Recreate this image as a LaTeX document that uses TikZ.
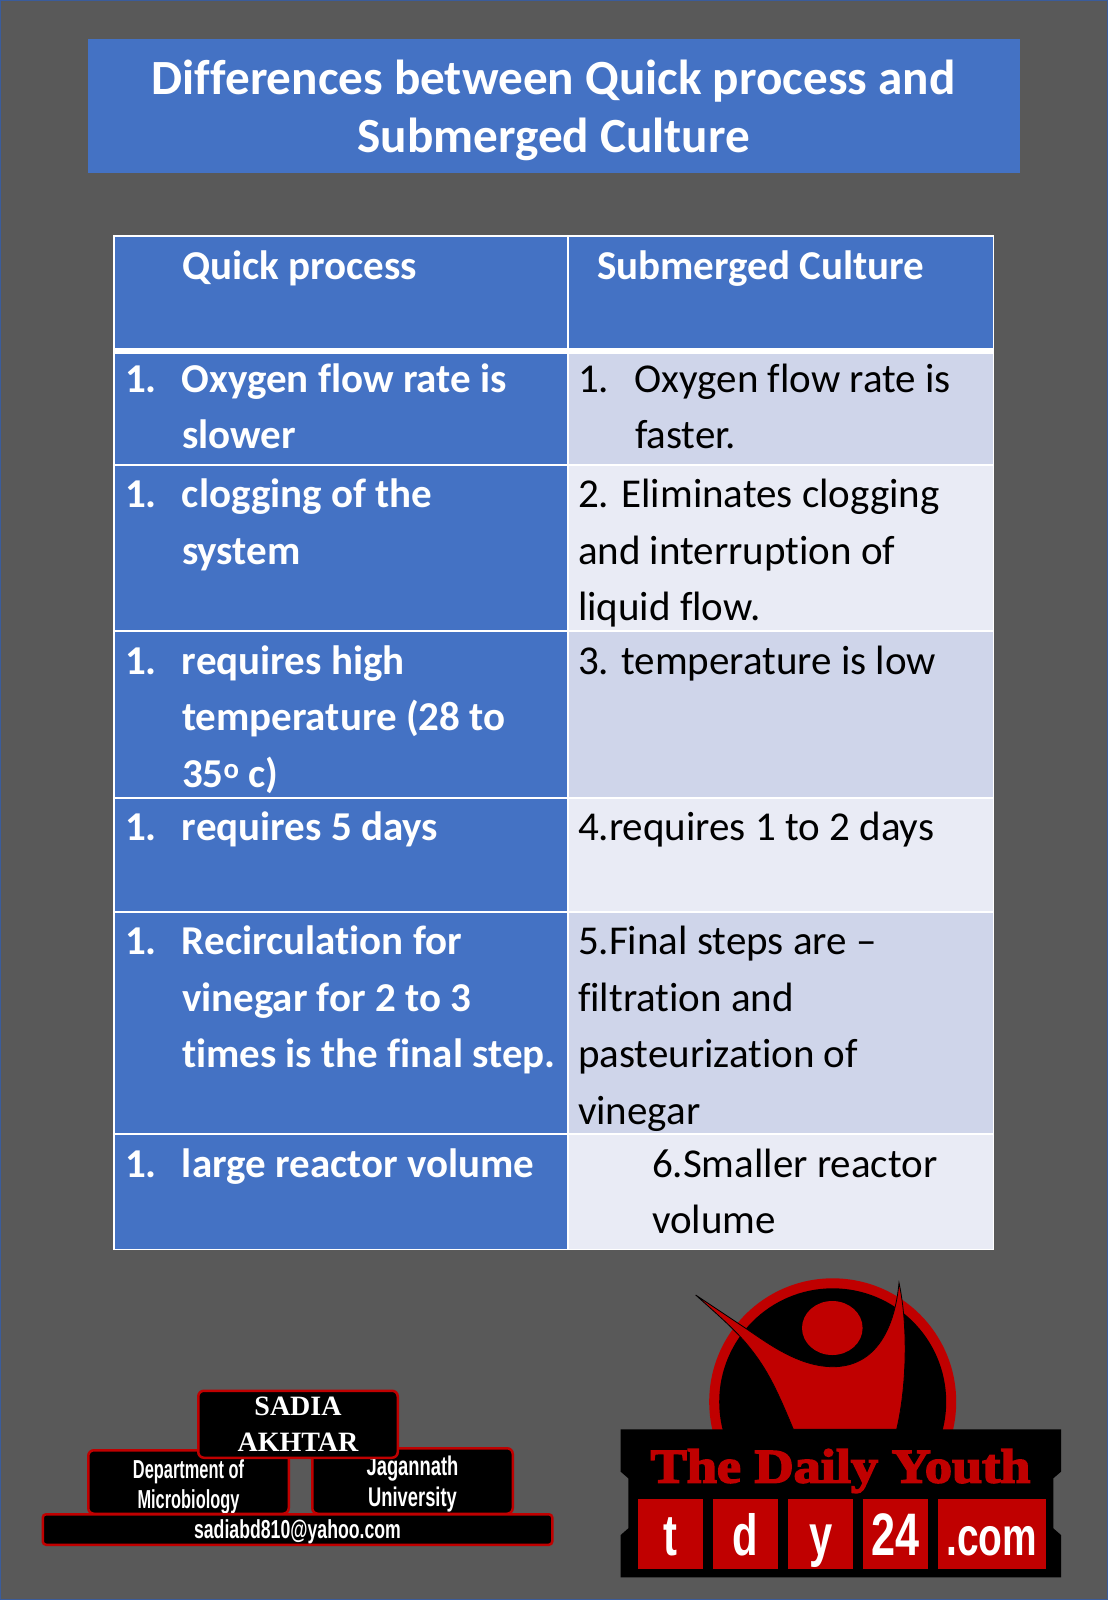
\documentclass[tikz,border=0pt]{standalone}
\usepackage{fontspec}
\setmainfont[Ligatures={TeX,NoCommon}]{Carlito}
\newfontfamily\narrowfont[FakeStretch=0.63]{Liberation Sans}
\newfontfamily\mailfont[FakeStretch=0.68]{Liberation Sans}
\newfontfamily\seriffont{Liberation Serif}
\newfontfamily\blackfont[FakeBold=3.5,FakeStretch=1.13]{Liberation Serif Bold}
\newfontfamily\tilefont[FakeStretch=0.72]{Liberation Sans Bold}
\usetikzlibrary{positioning}
\usetikzlibrary{calc}
\definecolor{pagegray}{HTML}{595959}
\definecolor{pageblue}{HTML}{3A5C9C}
\definecolor{headblue}{HTML}{4472C4}
\definecolor{rowdark}{HTML}{CFD5EA}
\definecolor{rowlight}{HTML}{E9EBF5}
\definecolor{logored}{HTML}{C00000}
\newcommand{\nm}[1]{\makebox[57pt][l]{#1}}
\newcommand{\ind}{\hspace*{57pt}}
\tikzset{every picture/.style={line width=1pt}}

\begin{document}
\begin{tikzpicture}[x=1pt,y=1pt,
  qcell/.style={anchor=north west, fill=headblue, text=white, minimum width=452pt, text width=432pt, inner xsep=10pt, inner ysep=0pt, align=flush left, font=\fontsize{41}{56.6}\selectfont\bfseries, text height=42pt},
  scell/.style={anchor=north west, minimum width=424pt, text width=406pt, inner xsep=9pt, inner ysep=0pt, align=flush left, text=black, font=\fontsize{41}{56.6}\selectfont, text height=42pt},
  namebox/.style={anchor=north west, fill=black, draw=logored, line width=2.5pt, rounded corners=1.2ex, text=white, inner sep=0pt, align=center},
  tile/.style={anchor=north west, fill=logored, text=white, minimum height=70pt, text height=56.7pt, text depth=13.3pt, inner sep=0pt, font=\fontsize{58}{60}\selectfont\tilefont}]
\useasboundingbox (0,0) rectangle (1108,-1600);
\coordinate (pg) at (0,0);
\node (page) at ($(pg)+(554pt,-800pt)$) [minimum width=1107pt, minimum height=1599pt, inner sep=0pt, fill=pagegray, draw=pageblue] {};
\node (title) at ($(pg)+(553.75pt,-106.25pt)$) [minimum width=932.5pt, minimum height=133.5pt, inner sep=0pt, fill=headblue, text=white, align=center, font=\fontsize{49.2}{58}\selectfont\bfseries] {\rule{0pt}{43pt}Differences between Quick process and\\Submerged Culture};
% table
\node (tbl) at ($(pg)+(553.5pt,-742.5pt)$) [minimum width=881pt, minimum height=1015pt, inner sep=0pt, fill=white] {};
\node (hq) at ($(pg)+(114.5pt,-236.5pt)$) [qcell, text depth=68.5pt] {\ind Quick process};
\node (hs) at ($(hq.north west)+(454pt,0)$) [scell, fill=headblue, text=white, text depth=68.5pt, font=\fontsize{41}{56.6}\selectfont\bfseries] {\hspace*{19pt}Submerged Culture};
\node (q1) at ($(hq.north west)+(0,-116.5pt)$) [qcell, text height=38.5pt, text depth=71.5pt] {\nm{1.}Oxygen flow rate is\\\ind slower};
\node (s1) at ($(q1.north west)+(454pt,0)$) [scell, fill=rowdark, text height=38.5pt, text depth=71.5pt] {\nm{1.}Oxygen flow rate is\\\ind faster.};
\node (q2) at ($(hq.north west)+(0,-228.5pt)$) [qcell, text depth=122.5pt] {\nm{1.}clogging of the\\\ind system};
\node (s2) at ($(q2.north west)+(454pt,0)$) [scell, fill=rowlight, text depth=122.5pt] {2. Eliminates clogging\\and interruption of\\liquid flow.};
\node (q3) at ($(hq.north west)+(0,-395pt)$) [qcell, text depth=122.5pt] {\nm{1.}requires high\\\ind temperature (28 to\\\ind 35\textsuperscript{o} c)};
\node (s3) at ($(q3.north west)+(454pt,0)$) [scell, fill=rowdark, text depth=122.5pt] {3. temperature is low};
\node (q4) at ($(hq.north west)+(0,-561.5pt)$) [qcell, text depth=70pt] {\nm{1.}requires 5 days};
\node (s4) at ($(q4.north west)+(454pt,0)$) [scell, fill=rowlight, text depth=70pt] {4.requires 1 to 2 days};
\node (q5) at ($(hq.north west)+(0,-675.5pt)$) [qcell, text depth=178.5pt] {\nm{1.}Recirculation for\\\ind vinegar for 2 to 3\\\ind times is the final step.};
\node (s5) at ($(q5.north west)+(454pt,0)$) [scell, fill=rowdark, text depth=178.5pt] {5.Final steps are --\\filtration and\\pasteurization of\\vinegar};
\node (q6) at ($(hq.north west)+(0,-898pt)$) [qcell, text depth=71.5pt] {\nm{1.}large reactor volume};
\node (s6) at ($(q6.north west)+(454pt,0)$) [scell, fill=rowlight, text depth=71.5pt] {\hspace*{74pt}6.Smaller reactor\\\hspace*{74pt}volume};
% name boxes
\node (dept) at ($(pg)+(87pt,-1449pt)$) [namebox, minimum width=200.5pt, minimum height=63.5pt, font=\fontsize{26}{29.5}\selectfont\narrowfont\bfseries] {\rule{0pt}{28pt}Department of\\Microbiology};
\node (univ) at ($(pg)+(311pt,-1447pt)$) [namebox, minimum width=200.5pt, minimum height=65.5pt, font=\fontsize{27}{30.5}\selectfont\mailfont\bfseries] {\rule{0pt}{26pt}Jagannath\\University};
\node (sadia) at ($(pg)+(197pt,-1389.5pt)$) [namebox, minimum width=199.5pt, minimum height=67pt, font=\fontsize{28}{36}\selectfont\seriffont\bfseries] {SADIA\\AKHTAR};
\node (mail) at ($(pg)+(41.5pt,-1513pt)$) [namebox, rounded corners=0.7ex, minimum width=509.5pt, minimum height=30.5pt, font=\fontsize{26}{30}\selectfont\mailfont\bfseries] {\rule{0pt}{24pt}sadiabd810@yahoo.com};
% logo
\coordinate (hub) at ($(pg)+(832.7pt,-1401.8pt)$);
\fill[logored] (hub) circle (123.5);
\fill[black] (hub) circle (113.5);
\fill[logored] ($(pg)+(832.3pt,-1328pt)$) ellipse (30.3 and 27);
\filldraw[fill=logored, draw=black, line width=0.8pt] (695.7,-1295) -- (746.7,-1329) .. controls (770,-1345) and (800,-1366.7) .. (833,-1366.7) .. controls (876.7,-1366.7) and (895,-1326.7) .. (899,-1282.7) .. controls (908.3,-1326.7) and (906.7,-1386.7) .. (896.7,-1429.3) -- (793.3,-1429.3) .. controls (775,-1385) and (765,-1365) .. (743.3,-1340) .. controls (730,-1325) and (710,-1308) .. cycle;
\fill[black] (620.7,-1429.3) -- (1061,-1429.3) -- (1061,-1471.7) -- (1053.3,-1478.3) -- (1053.3,-1528.3) -- (1061,-1535) -- (1061,-1577.3) -- (620.7,-1577.3) -- (620.7,-1535) -- (628.3,-1528.3) -- (628.3,-1478.3) -- (620.7,-1471.7) -- cycle;
\node (daily) at ($(pg)+(840.5pt,-1471pt)$) [inner sep=0pt, text=logored, font=\fontsize{48}{50}\selectfont\blackfont] {The Daily Youth};
\node (tt) at ($(pg)+(637.3pt,-1498.3pt)$) [tile, minimum width=65pt] {t};
\node (td) at ($(pg)+(712.7pt,-1498.3pt)$) [tile, minimum width=65pt] {d};
\node (ty) at ($(pg)+(787.7pt,-1498.3pt)$) [tile, minimum width=65pt] {y};
\node (t24) at ($(pg)+(862.7pt,-1498.3pt)$) [tile, minimum width=64.6pt, font=\fontsize{60}{60}\selectfont\tilefont] {24};
\node (tcom) at ($(pg)+(937.3pt,-1498.3pt)$) [tile, minimum width=107.7pt, font=\fontsize{54}{60}\selectfont\tilefont] {.com};
\end{tikzpicture}
\end{document}
